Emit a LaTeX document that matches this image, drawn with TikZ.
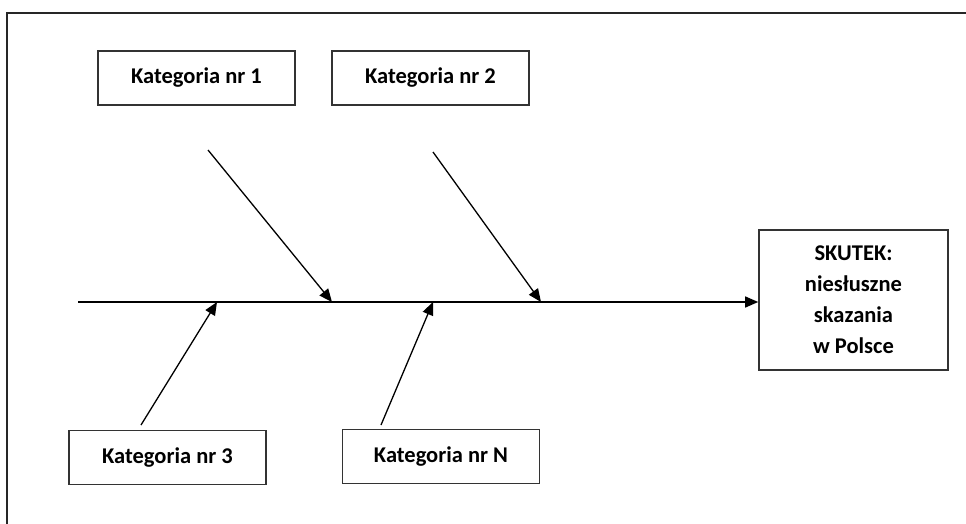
\documentclass[tikz,border=0pt]{standalone}
\usepackage{fontspec}
\setmainfont{Carlito}
\usetikzlibrary{arrows.meta}
\tikzset{
  katbox/.style={draw=black!80, line width=1.6pt, minimum width=197pt, minimum height=54pt,
    font=\fontsize{22.5}{31}\selectfont\bfseries},
  kost/.style={line width=1.3pt, -{Triangle[length=13pt,width=11pt]}}
}
\begin{document}
\begin{tikzpicture}[x=1pt, y=-1pt]
  \useasboundingbox (0,0) rectangle (966,524);
  \clip (0,0) rectangle (966,524);
  % outer frame (runs past the right and bottom edge)
  \draw[line width=1.8pt, black!85] (7,13) rectangle (990,560);
  % category boxes
  \node[katbox] (kat1) at (196.5,78) {Kategoria nr 1};
  \node[katbox] (kat2) at (430.5,78) {Kategoria nr 2};
  \node[katbox] (kat3) at (167.5,457.5) {Kategoria nr 3};
  \node[katbox] (katN) at (441,456.5) {Kategoria nr N};
  % effect
  \node[katbox, minimum width=189pt, minimum height=140pt, align=center]
    (skutek) at (853.5,300) {SKUTEK:\\niesłuszne\\skazania\\w Polsce};
  % spine
  \coordinate (grzbiet) at (78,302);
  \draw[kost] (grzbiet) -- (grzbiet -| skutek.west);
  % bones
  \coordinate (o1) at (208,150);
  \coordinate (o2) at (433,152);
  \coordinate (o3) at (141,425);
  \coordinate (oN) at (381,425);
  \coordinate (g1) at (332,302);
  \coordinate (g2) at (541,302);
  \coordinate (g3) at (217,302);
  \coordinate (gN) at (433,302);
  \draw[kost] (o1) -- (g1);
  \draw[kost] (o2) -- (g2);
  \draw[kost] (o3) -- (g3);
  \draw[kost] (oN) -- (gN);
\end{tikzpicture}
\end{document}
